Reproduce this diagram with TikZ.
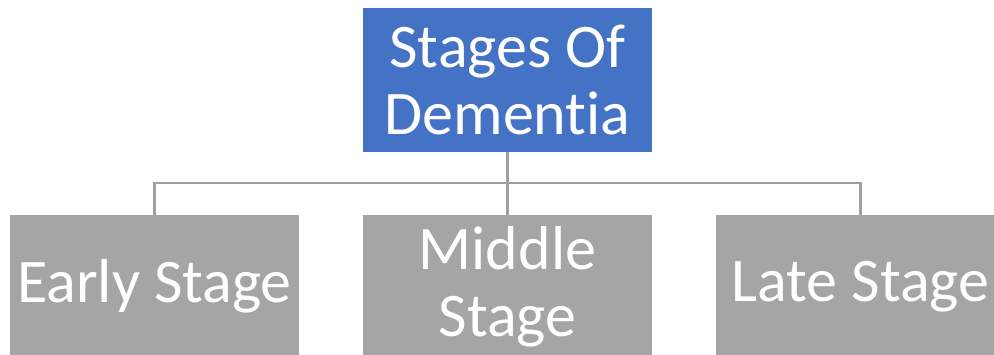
\documentclass[tikz,border=0pt]{standalone}
\usepackage{fontspec}
\setmainfont{Carlito}[Ligatures=NoCommon]
\usepackage{tikz}
\definecolor{dementiablue}{HTML}{4472C4}
\definecolor{stagegray}{HTML}{A5A5A5}
\definecolor{linkgray}{HTML}{A0A0A0}

\begin{document}
\begin{tikzpicture}[x=1pt,y=-1pt,
  topbox/.style={fill=dementiablue, text=white, minimum width=289pt, minimum height=144pt,
    inner sep=0pt, align=center, font=\fontsize{62}{67}\selectfont},
  stagebox/.style={fill=stagegray, text=white, minimum width=289pt, minimum height=143pt,
    inner sep=0pt, align=center, font=\fontsize{62}{67}\selectfont},
  link/.style={draw=linkgray, line width=2.2pt}]
	\clip (0,0) rectangle (994,354);
	\node[topbox] (dementia) at (507.5,80) {Stages Of\\Dementia};
	\node[stagebox] (early) at (154.5,286.5) {Early Stage};
	\node[stagebox] (middle) at (507.5,286.5) {Middle\\Stage};
	\node[stagebox] (late) at (860.5,286.5) {Late Stage};
	\coordinate (bus) at (507.5,183);
	
	\draw[link] (dementia.south) -- (bus);
	\draw[link] (early.north) |- (bus);
	\draw[link] (late.north) |- (bus);
	\draw[link] (middle.north) -- (bus);
\end{tikzpicture}
\end{document}
